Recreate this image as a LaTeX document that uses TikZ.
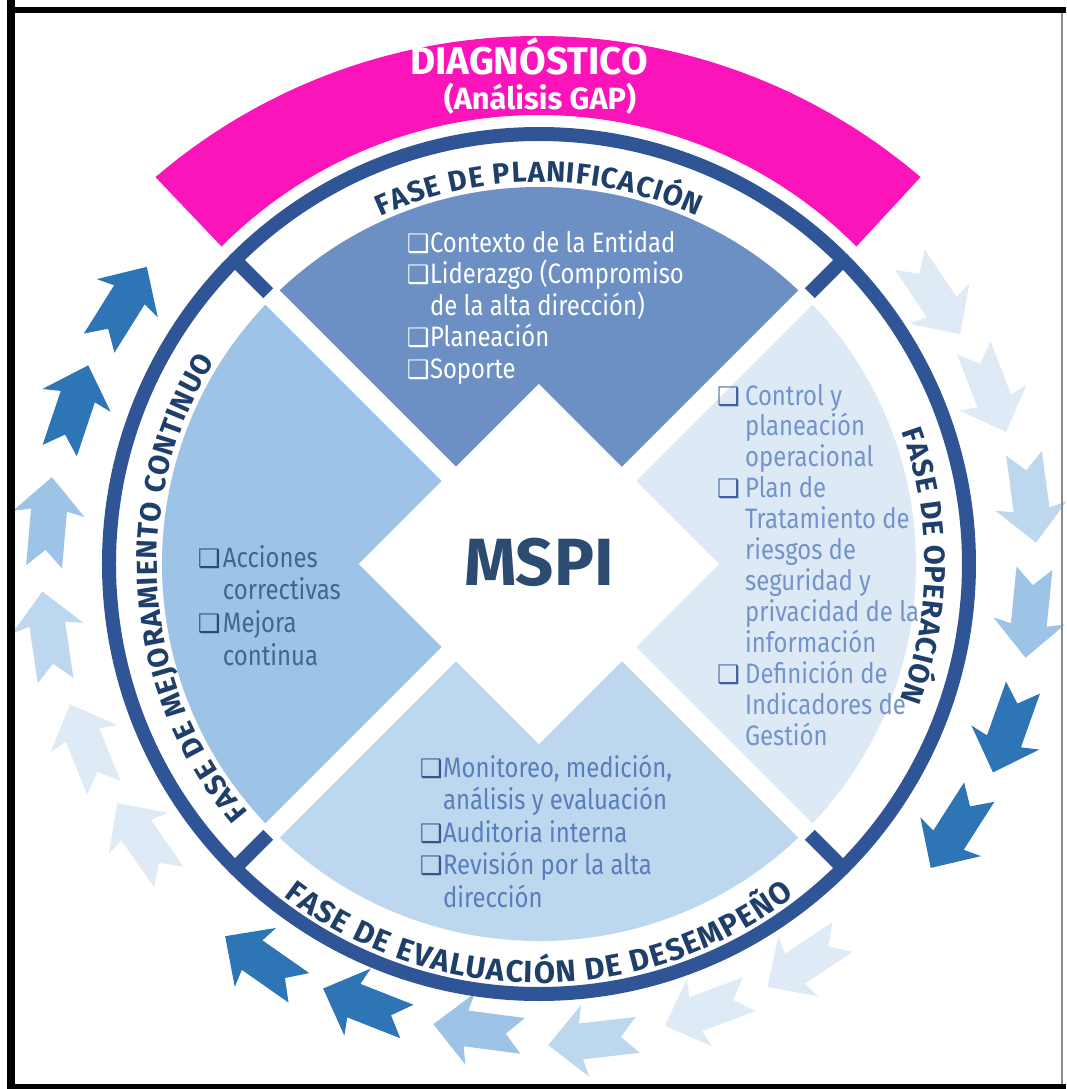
\documentclass[tikz,border=0pt]{standalone}
\usepackage{fontspec}
\usetikzlibrary{decorations.text}
\newfontfamily\bodyfont{Fira Sans}[FakeStretch=0.85]
\newfontfamily\labelfont{Fira Sans}
\newfontfamily\symf{DejaVu Sans}
\definecolor{ringc}{HTML}{2F5597}
\definecolor{labelc}{HTML}{1F3F6B}
\definecolor{pinkc}{HTML}{FA14B9}
\definecolor{qtop}{HTML}{6C8FC4}
\definecolor{qright}{HTML}{DDEAF6}
\definecolor{qbottom}{HTML}{BDD7EE}
\definecolor{qleft}{HTML}{9DC3E6}
\definecolor{aDark}{HTML}{2E75B6}
\definecolor{aMid}{HTML}{9DC3E6}
\definecolor{aLight}{HTML}{BDD7EE}
\definecolor{aPale}{HTML}{DEEBF7}
\definecolor{mspic}{HTML}{2B4B71}
\definecolor{rtext}{HTML}{7393CA}
\definecolor{rcb}{HTML}{3F5F9E}
\definecolor{btext}{HTML}{5A7DBC}
\definecolor{bcb}{HTML}{34558F}
\definecolor{ltext}{HTML}{3F6793}
\definecolor{lcb}{HTML}{2A4B75}
\newcommand\phasefont{\labelfont\bfseries\fontsize{16.5}{18}\selectfont}
\newcommand\qbox[2]{\vtop{\baselineskip=#1\lineskiplimit=-\maxdimen\relax #2}}
\newcommand\itm[3]{\hbox{\makebox[#1][l]{\textcolor{#2}{\symf\bfseries\fontsize{14.5}{14.5}\selectfont ❑}}#3}}
\newcommand\cnt[2]{\hbox{\hspace*{#1}#2}}
\tikzset{
  qtext/.style={anchor=base west, inner sep=0pt, outer sep=0pt, font=\bodyfont\fontsize{16}{18}\selectfont},
  phase/.style={decorate, decoration={text along path, text color=labelc, text align=fit to path, text={|\phasefont|#1}}},
  arrowfill/.style={fill=#1}
}
\begin{document}
\begin{tikzpicture}[x=0.02cm,y=0.02cm]
\useasboundingbox (-539,-525) rectangle (527,564);
\fill[white] (-539,-525) rectangle (527,564);

% arrows around
\foreach \x/\y/\r/\c in {
  396/267/-56/aPale, 451/174/-69/aPale, 491/66/-82.3/aLight,
  491/-49/-95.7/aMid, 469/-166/-109.5/aDark, 416/-266/-122.6/aDark,
  266/-398/213.7/aPale, 168/-446/200.6/aPale, 54/-476/186.5/aLight,
  -61/-466/172.5/aMid, -174/-441/158.5/aDark, -277/-398/145/aDark,
  -396/-276/124.9/aPale, -452/-182/112/aPale, -490/-72/98.4/aLight,
  -491/42/85/aMid, -465/156/71.5/aDark, -416/259/58/aDark}
  \fill[arrowfill=\c, shift={(\x,\y)}, rotate=\r]
    (45,0) -- (8,36) -- (12,18) -- (-45,18) -- (-28,0) -- (-45,-18) -- (12,-18) -- (8,-36) -- cycle;

% pink banner
\fill[pinkc] (135:449) -- (-383.5,386.9) arc[start angle=130.5, end angle=49.5, radius=589]
  -- (45:449) arc[start angle=45, end angle=135, radius=449] -- cycle;
\node[anchor=base, text=white, font=\labelfont\bfseries\fontsize{22}{24}\selectfont] (diag) at (-10,489) {DIAGNÓSTICO};
\node[anchor=base, text=white, font=\labelfont\bfseries\fontsize{17.5}{20}\selectfont] (gap) at (1,454) {(Análisis GAP)};

% quadrants
\fill[qtop] (0,0) -- (45:377) arc[start angle=45, end angle=135, radius=377] -- cycle;
\fill[qleft] (0,0) -- (135:377) arc[start angle=135, end angle=225, radius=377] -- cycle;
\fill[qbottom] (0,0) -- (225:377) arc[start angle=225, end angle=315, radius=377] -- cycle;
\fill[qright] (0,0) -- (315:377) arc[start angle=315, end angle=405, radius=377] -- cycle;
\draw[white, line width=0.4cm] (45:400) -- (225:400);
\draw[white, line width=0.4cm] (135:400) -- (315:400);
\fill[white] (0,180) -- (180,0) -- (0,-180) -- (-180,0) -- cycle;

% ring and dividers
\draw[ringc, line width=0.28cm] (0,0) circle[radius=430];
\foreach \a in {45,135,225,315}
  \draw[ringc, line width=0.28cm] (\a:383) -- (\a:428);

% phase labels
\path[phase={FASE DE PLANIFICACIÓN}] (114.5:382) arc[start angle=114.5, end angle=65.5, radius=382];
\path[phase={FASE DE OPERACIÓN}] (20:386) arc[start angle=20, end angle=-20.5, radius=386];
\path[phase={FASE DE MEJORAMIENTO CONTINUO}] (220.5:382) arc[start angle=220.5, end angle=148, radius=382];
\path[decorate, decoration={text along path, text color=labelc, text align=fit to path,
  text={|\labelfont\bfseries\fontsize{17.5}{19}\selectfont|FASE DE EVALUACIÓN DE DESEMPEÑO}}]
  (232.5:419) arc[start angle=232.5, end angle=307.5, radius=419];

% center
\node[anchor=base, text=mspic, font=\labelfont\bfseries\fontsize{38}{40}\selectfont] (mspi) at (0,-21) {MSPI};

% quadrant texts
\node[qtext, text=white] (ttop) at (-132,312) {\qbox{18pt}{%
  \itm{13.1pt}{white}{Contexto de la Entidad}%
  \itm{13.1pt}{white}{Liderazgo (Compromiso}%
  \cnt{13.1pt}{de la alta dirección)}%
  \itm{13.1pt}{white}{Planeación}%
  \itm{13.1pt}{white}{Soporte}}};

\node[qtext, text=rtext] (tright) at (178,159) {\qbox{17.6pt}{%
  \itm{16pt}{rcb}{Control y}%
  \cnt{16pt}{planeación}%
  \cnt{16pt}{operacional}%
  \itm{16pt}{rcb}{Plan de}%
  \cnt{16pt}{Tratamiento de}%
  \cnt{16pt}{riesgos de}%
  \cnt{16pt}{seguridad y}%
  \cnt{16pt}{privacidad de la}%
  \cnt{16pt}{información}%
  \itm{16pt}{rcb}{Definición de}%
  \cnt{16pt}{Indicadores de}%
  \cnt{16pt}{Gestión}}};

\node[qtext, text=ltext] (tleft) at (-341,-3) {\qbox{18.6pt}{%
  \itm{14.2pt}{lcb}{Acciones}%
  \cnt{14.2pt}{correctivas}%
  \itm{14.2pt}{lcb}{Mejora}%
  \cnt{14.2pt}{continua}}};

\node[qtext, text=btext] (tbottom) at (-119,-213) {\qbox{18.5pt}{%
  \itm{13.1pt}{bcb}{Monitoreo, medición,}%
  \cnt{13.1pt}{análisis y evaluación}%
  \itm{13.1pt}{bcb}{Auditoria interna}%
  \itm{13.1pt}{bcb}{Revisión por la alta}%
  \cnt{13.1pt}{dirección}}};

% frame
\draw[black, line width=0.16cm] (-528,-525) -- (-528,564);
\draw[black, line width=0.12cm] (-532,554) -- (527,554);
\draw[black, line width=0.11cm] (-532,-522.5) -- (527,-522.5);
\draw[black!45, line width=0.04cm] (523,-520) -- (523,551);
\end{tikzpicture}
\end{document}
